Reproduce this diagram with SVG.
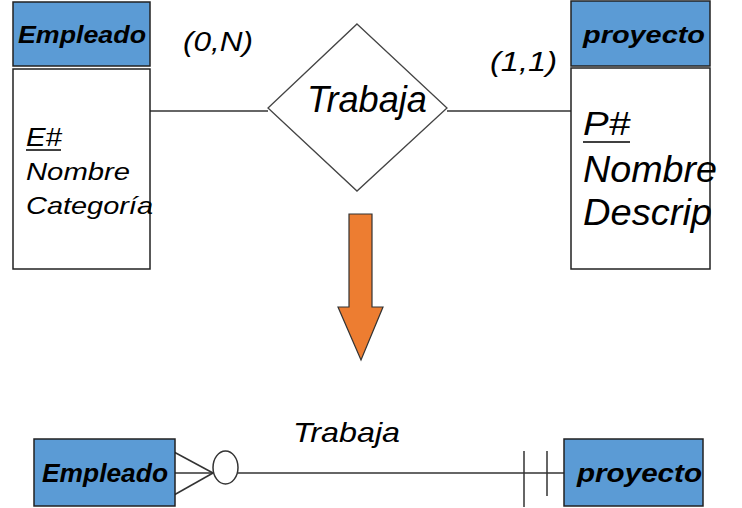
<svg xmlns="http://www.w3.org/2000/svg" width="742" height="508" viewBox="0 0 742 508">
<style>
.hdr{fill:#5B9BD5;stroke:#222;stroke-width:1.5}
.body{fill:#fff;stroke:#222;stroke-width:1.5}
.ln{stroke:#333;stroke-width:1.5;fill:none}
text{font-family:"Liberation Sans",Arial,sans-serif;font-style:italic;fill:#000}
.b{font-weight:bold}
</style>
<rect width="742" height="508" fill="#fff"/>
<g id="connectors">
<line class="ln" x1="150" y1="111" x2="268" y2="111"/>
<line class="ln" x1="447" y1="111" x2="571" y2="111"/>
<line class="ln" x1="174" y1="452" x2="213" y2="473"/>
<line class="ln" x1="174" y1="473" x2="213" y2="473"/>
<line class="ln" x1="174" y1="495" x2="213" y2="473"/>
<line class="ln" x1="238" y1="473" x2="564" y2="473"/>
<line class="ln" x1="524" y1="451" x2="524" y2="507"/>
<line class="ln" x1="547" y1="451" x2="547" y2="496"/>
<ellipse class="ln" cx="225.5" cy="467.5" rx="12.5" ry="16.5" fill="#fff"/>
<text x="183" y="51" font-size="27" textLength="70" lengthAdjust="spacingAndGlyphs">(0,N)</text>
<text x="490" y="71" font-size="27" textLength="67" lengthAdjust="spacingAndGlyphs">(1,1)</text>
<text x="293" y="442" font-size="28" textLength="107" lengthAdjust="spacingAndGlyphs">Trabaja</text>
</g>
<g id="empleado">
<rect class="hdr" x="13" y="2" width="137" height="64"/>
<rect class="body" x="13" y="69" width="137" height="200"/>
<text class="b" x="18" y="43" font-size="23" textLength="128" lengthAdjust="spacingAndGlyphs">Empleado</text>
<text x="26" y="146" font-size="25" textLength="36" lengthAdjust="spacingAndGlyphs">E#</text>
<line x1="26" y1="150" x2="61" y2="150" stroke="#000" stroke-width="1.5"/>
<text x="26" y="180" font-size="24" textLength="104" lengthAdjust="spacingAndGlyphs">Nombre</text>
<text x="26" y="214" font-size="24" textLength="127" lengthAdjust="spacingAndGlyphs">Categoría</text>
</g>
<g id="trabaja">
<polygon points="357,24 447,108 357,191 268,108" fill="#fff" stroke="#444" stroke-width="1.3"/>
<text x="307" y="112" font-size="37" textLength="120" lengthAdjust="spacingAndGlyphs">Trabaja</text>
</g>
<g id="proyecto">
<rect class="hdr" x="571" y="1" width="139" height="65"/>
<rect class="body" x="571" y="68" width="139" height="201"/>
<text class="b" x="583" y="43" font-size="23" textLength="122" lengthAdjust="spacingAndGlyphs">proyecto</text>
<text x="583" y="135" font-size="34" textLength="47" lengthAdjust="spacingAndGlyphs">P#</text>
<line x1="583" y1="142" x2="630" y2="142" stroke="#000" stroke-width="1.5"/>
<text x="583" y="182" font-size="36" textLength="134" lengthAdjust="spacingAndGlyphs">Nombre</text>
<text x="583" y="225" font-size="36" textLength="129" lengthAdjust="spacingAndGlyphs">Descrip</text>
</g>
<g id="arrow">
<polygon points="349,214 372,214 372,307 383,307 361,360 338,307 349,307" fill="#ED7D31" stroke="#333" stroke-width="1.2"/>
</g>
<g id="empleado2">
<rect class="hdr" x="34" y="439" width="141" height="67"/>
<text class="b" x="42" y="482" font-size="26" textLength="126" lengthAdjust="spacingAndGlyphs">Empleado</text>
</g>
<g id="proyecto2">
<rect class="hdr" x="564" y="439" width="139" height="67"/>
<text class="b" x="577" y="482" font-size="26" textLength="125" lengthAdjust="spacingAndGlyphs">proyecto</text>
</g>
</svg>
